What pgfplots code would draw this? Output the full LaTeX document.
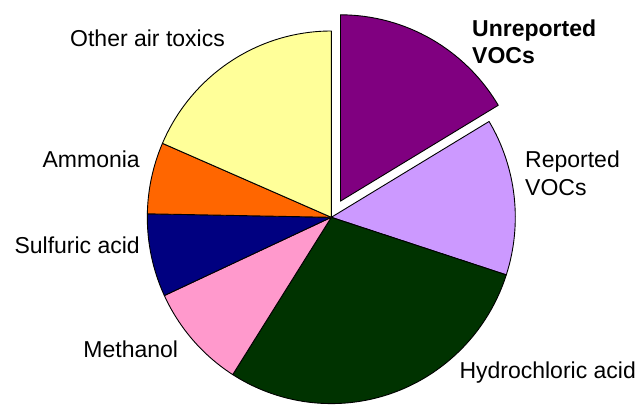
\documentclass[border=0pt]{standalone}
\usepackage{pgfplots}
\usepackage{pgfplotstable}
\pgfplotsset{compat=1.18}
\usepackage{fontspec}
\setmainfont{Liberation Sans}
\definecolor{cUnrep}{HTML}{800080}
\definecolor{cRep}{HTML}{CC99FF}
\definecolor{cHCl}{HTML}{003300}
\definecolor{cMeth}{HTML}{FF99CC}
\definecolor{cSulf}{HTML}{000080}
\definecolor{cAmm}{HTML}{FF6600}
\definecolor{cOther}{HTML}{FFFF99}
\pgfplotstableread{
name value color explode
Unreported 16.4 cUnrep 18.6
Reported 13.6 cRep 0
Hydrochloric 29.0 cHCl 0
Methanol 9.1 cMeth 0
Sulfuric 7.2 cSulf 0
Ammonia 6.2 cAmm 0
Other 18.5 cOther 0
}\piedata
\def\pcx{331.3}
\def\pcy{217.3}
\def\prx{184}
\def\pry{186.3}
\begin{document}
\begin{tikzpicture}
\begin{axis}[scale only axis, width=644bp, height=404bp,
  xmin=0, xmax=644, ymin=0, ymax=404, y dir=reverse,
  hide axis, clip=false]
\path (axis cs:0,0) rectangle (axis cs:644,404);
\def\startangle{90}
\pgfplotsforeachungrouped \i in {0,...,6}{%
  \pgfplotstablegetelem{\i}{value}\of\piedata \let\val\pgfplotsretval
  \pgfplotstablegetelem{\i}{color}\of\piedata \let\col\pgfplotsretval
  \pgfplotstablegetelem{\i}{explode}\of\piedata \let\ex\pgfplotsretval
  \pgfmathsetmacro{\endangle}{\startangle-3.6*\val}%
  \pgfmathsetmacro{\midangle}{(\startangle+\endangle)/2}%
  \pgfmathsetmacro{\ccx}{\pcx+\ex*cos(\midangle)}%
  \pgfmathsetmacro{\ccy}{\pcy-\ex*sin(\midangle)}%
  \pgfmathsetmacro{\sx}{\prx*cos(\startangle)}%
  \pgfmathsetmacro{\sy}{\pry*sin(\startangle)}%
  \edef\temp{\noexpand\filldraw[fill=\col, draw=black, line width=0.9bp, line join=round]
    (axis cs:\ccx,\ccy) -- ++(\sx bp,\sy bp)
    arc[start angle=\startangle, end angle=\endangle, x radius=\prx bp, y radius=\pry bp] -- cycle;}%
  \temp
  \global\let\startangle\endangle
}
\begin{scope}[every node/.style={font=\fontsize{23bp}{28bp}\selectfont, inner sep=0pt, anchor=base west}]
\node[font=\fontsize{23bp}{28bp}\selectfont\bfseries] at (axis cs:472,36) {Unreported};
\node[font=\fontsize{23bp}{28bp}\selectfont\bfseries] at (axis cs:472,63.3) {VOCs};
\node at (axis cs:525,167.3) {Reported};
\node at (axis cs:525,195) {VOCs};
\node at (axis cs:459.3,378.3) {Hydrochloric acid};
\node[anchor=base east] at (axis cs:178.3,357.3) {Methanol};
\node[anchor=base east] at (axis cs:140,253.3) {Sulfuric acid};
\node[anchor=base east] at (axis cs:140,167.3) {Ammonia};
\node at (axis cs:70,46) {Other air toxics};
\end{scope}
\end{axis}
\end{tikzpicture}
\end{document}
